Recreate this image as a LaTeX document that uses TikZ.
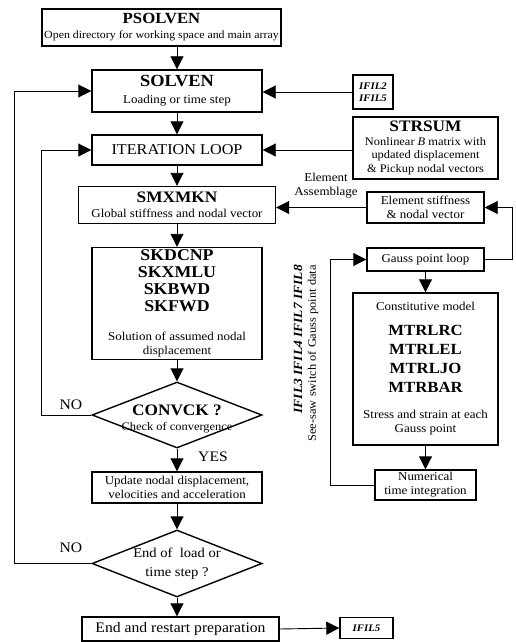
\documentclass[tikz,border=0pt]{standalone}
\usepackage{fontspec}
\setmainfont[FakeStretch=1.08]{Liberation Serif}
\usetikzlibrary{arrows.meta,shapes.geometric}
\newcommand{\fsz}[1]{\fontsize{#1}{#1}\selectfont}
\newcommand{\bt}[2][16]{{\fontsize{#1}{#1}\selectfont\bfseries #2}}
\begin{document}
\begin{tikzpicture}[x=1pt,y=-1pt,
  box/.style={draw, line width=1.4pt, inner sep=0pt, align=center, font=\fontsize{12}{14}\selectfont},
  dia/.style={draw, line width=1.4pt, diamond, inner sep=0pt},
  txt/.style={inner sep=0pt, align=center, font=\fontsize{12}{14}\selectfont},
  arr/.style={line width=0.9pt, -{Triangle[length=13pt,width=13pt]}},
  ]
\useasboundingbox (0,0) rectangle (516,642);

% main column
\node[box, minimum width=239pt, minimum height=37pt] (psolven) at (161.5,27.5)
  {\bt[15.5]{PSOLVEN}\\[1pt]{\fsz{11}Open directory for working space and main array}};
\node[box, minimum width=170pt, minimum height=42pt] (solven) at (177,91)
  {\bt[17]{SOLVEN}\\[3pt]Loading or time step};
\node[box, minimum width=170pt, minimum height=30pt, font=\fsz{15}] (iter) at (177,150)
  {ITERATION LOOP};
\node[box, minimum width=197pt, minimum height=37pt] (smx) at (177,205)
  {\bt{SMXMKN}\\[1pt]Global stiffness and nodal vector};
\node[box, minimum width=170pt, minimum height=112pt] (sol) at (177,303.5)
  {\bt[16.5]{SKDCNP}\\[3pt]\bt[16.5]{SKXMLU}\\[3pt]\bt[16.5]{SKBWD}\\[3pt]\bt[16.5]{SKFWD}\\[15pt]Solution of assumed nodal\\displacement};
\node[dia, minimum width=170pt, minimum height=66pt] (conv) at (177,415) {};
\node[txt, font=\fontsize{11.5}{15}\selectfont] (convt) at (177,419) {\bt{CONVCK ?}\\Check of convergence};
\node[box, minimum width=170pt, minimum height=31pt] (upd) at (177,487.5)
  {Update nodal displacement,\\velocities and acceleration};
\node[dia, minimum width=170pt, minimum height=67pt] (endl) at (177,563.5) {};
\node[txt, font=\fontsize{13.5}{19}\selectfont] (endlt) at (177,564) {End of~ load or\\time step ?};
\node[box, minimum width=197pt, minimum height=24pt, font=\fsz{14.5}] (endb) at (180.5,629)
  {End and restart preparation};
\node[box, minimum width=53pt, minimum height=21pt, font=\fsz{10}\bfseries\itshape] (ifil5) at (366.5,628)
  {IFIL5};

% right column
\node[box, minimum width=40pt, minimum height=34pt, font=\fontsize{10}{12.5}\selectfont\bfseries\itshape] (ifil2) at (373,92)
  {IFIL2\\IFIL5};
\node[box, minimum width=145pt, minimum height=62pt, font=\fontsize{11.5}{13.5}\selectfont] (strsum) at (425.5,148)
  {\bt{STRSUM}\\Nonlinear \textit{B} matrix with\\updated displacement\\\& Pickup nodal vectors};
\node[txt] (elab) at (326,186) {Element\\Assemblage};
\node[box, minimum width=117pt, minimum height=31pt] (elem) at (425.5,207.5)
  {Element stiffness\\\& nodal vector};
\node[box, minimum width=117pt, minimum height=23pt] (gauss) at (425.5,259.5)
  {Gauss point loop};
\node[box, minimum width=145pt, minimum height=152pt] (const) at (425.5,369)
  {Constitutive model\\[11pt]\bt[15.5]{MTRLRC}\\[5pt]\bt[15.5]{MTRLEL}\\[5pt]\bt[15.5]{MTRLJO}\\[5pt]\bt[15.5]{MTRBAR}\\[12pt]Stress and strain at each\\Gauss point};
\node[box, minimum width=101pt, minimum height=30pt] (num) at (425.5,485)
  {Numerical\\time integration};

% rotated labels
\node[txt, rotate=90, anchor=east, font=\fsz{12.5}\bfseries\itshape] (ifrot) at (298,265)
  {IFIL3 IFIL4 IFIL7 IFIL8};
\node[txt, rotate=90, anchor=east, font=\fsz{11.5}] (seesaw) at (313,265)
  {See-saw switch of Gauss point data};

% labels
\node[txt, font=\fsz{14.5}] (no1) at (71,405) {NO};
\node[txt, font=\fsz{14.5}] (no2) at (71,548) {NO};
\node[txt, font=\fsz{14.5}] (yes) at (213,457) {YES};

% loop corner coordinates
\coordinate (l1top) at (14,91);
\coordinate (l1bot) at (14,563.5);
\coordinate (l2top) at (41,150);
\coordinate (l2bot) at (41,415);
\coordinate (r1top) at (512,207.5);
\coordinate (r1bot) at (512,259.5);
\coordinate (s1top) at (330,259.5);
\coordinate (s1bot) at (330,485);

% main arrows
\draw[arr] (psolven.south -| solven.north) -- (solven.north);
\draw[arr] (solven) -- (iter);
\draw[arr] (iter) -- (smx);
\draw[arr] (smx) -- (sol);
\draw[arr] (sol.south) -- (conv.north);
\draw[arr] (conv.south) -- (upd.north);
\draw[arr] (upd.south) -- (endl.north);
\draw[arr] (endl.south) -- (endb.north -| endl.south);
\draw[arr] (endb.east) -- (ifil5.west);

% side arrows
\draw[arr] (ifil2.west) -- (ifil2.west -| solven.east);
\draw[arr] (strsum.west |- iter.east) -- (iter.east);
\draw[arr] (elem.west) -- (elem.west -| smx.east);
\draw[arr] (gauss.south -| const.north) -- (const.north);
\draw[arr] (const) -- (num);

% loops
\draw[arr] (endl.west) -- (l1bot) -- (l1top) -- (solven.west);
\draw[arr] (conv.west) -- (l2bot) -- (l2top) -- (iter.west);
\draw[arr] (gauss.east) -- (r1bot) -- (r1top) -- (elem.east);
\draw[arr] (num.west) -- (s1bot) -- (s1top) -- (gauss.west);
\end{tikzpicture}
\end{document}
